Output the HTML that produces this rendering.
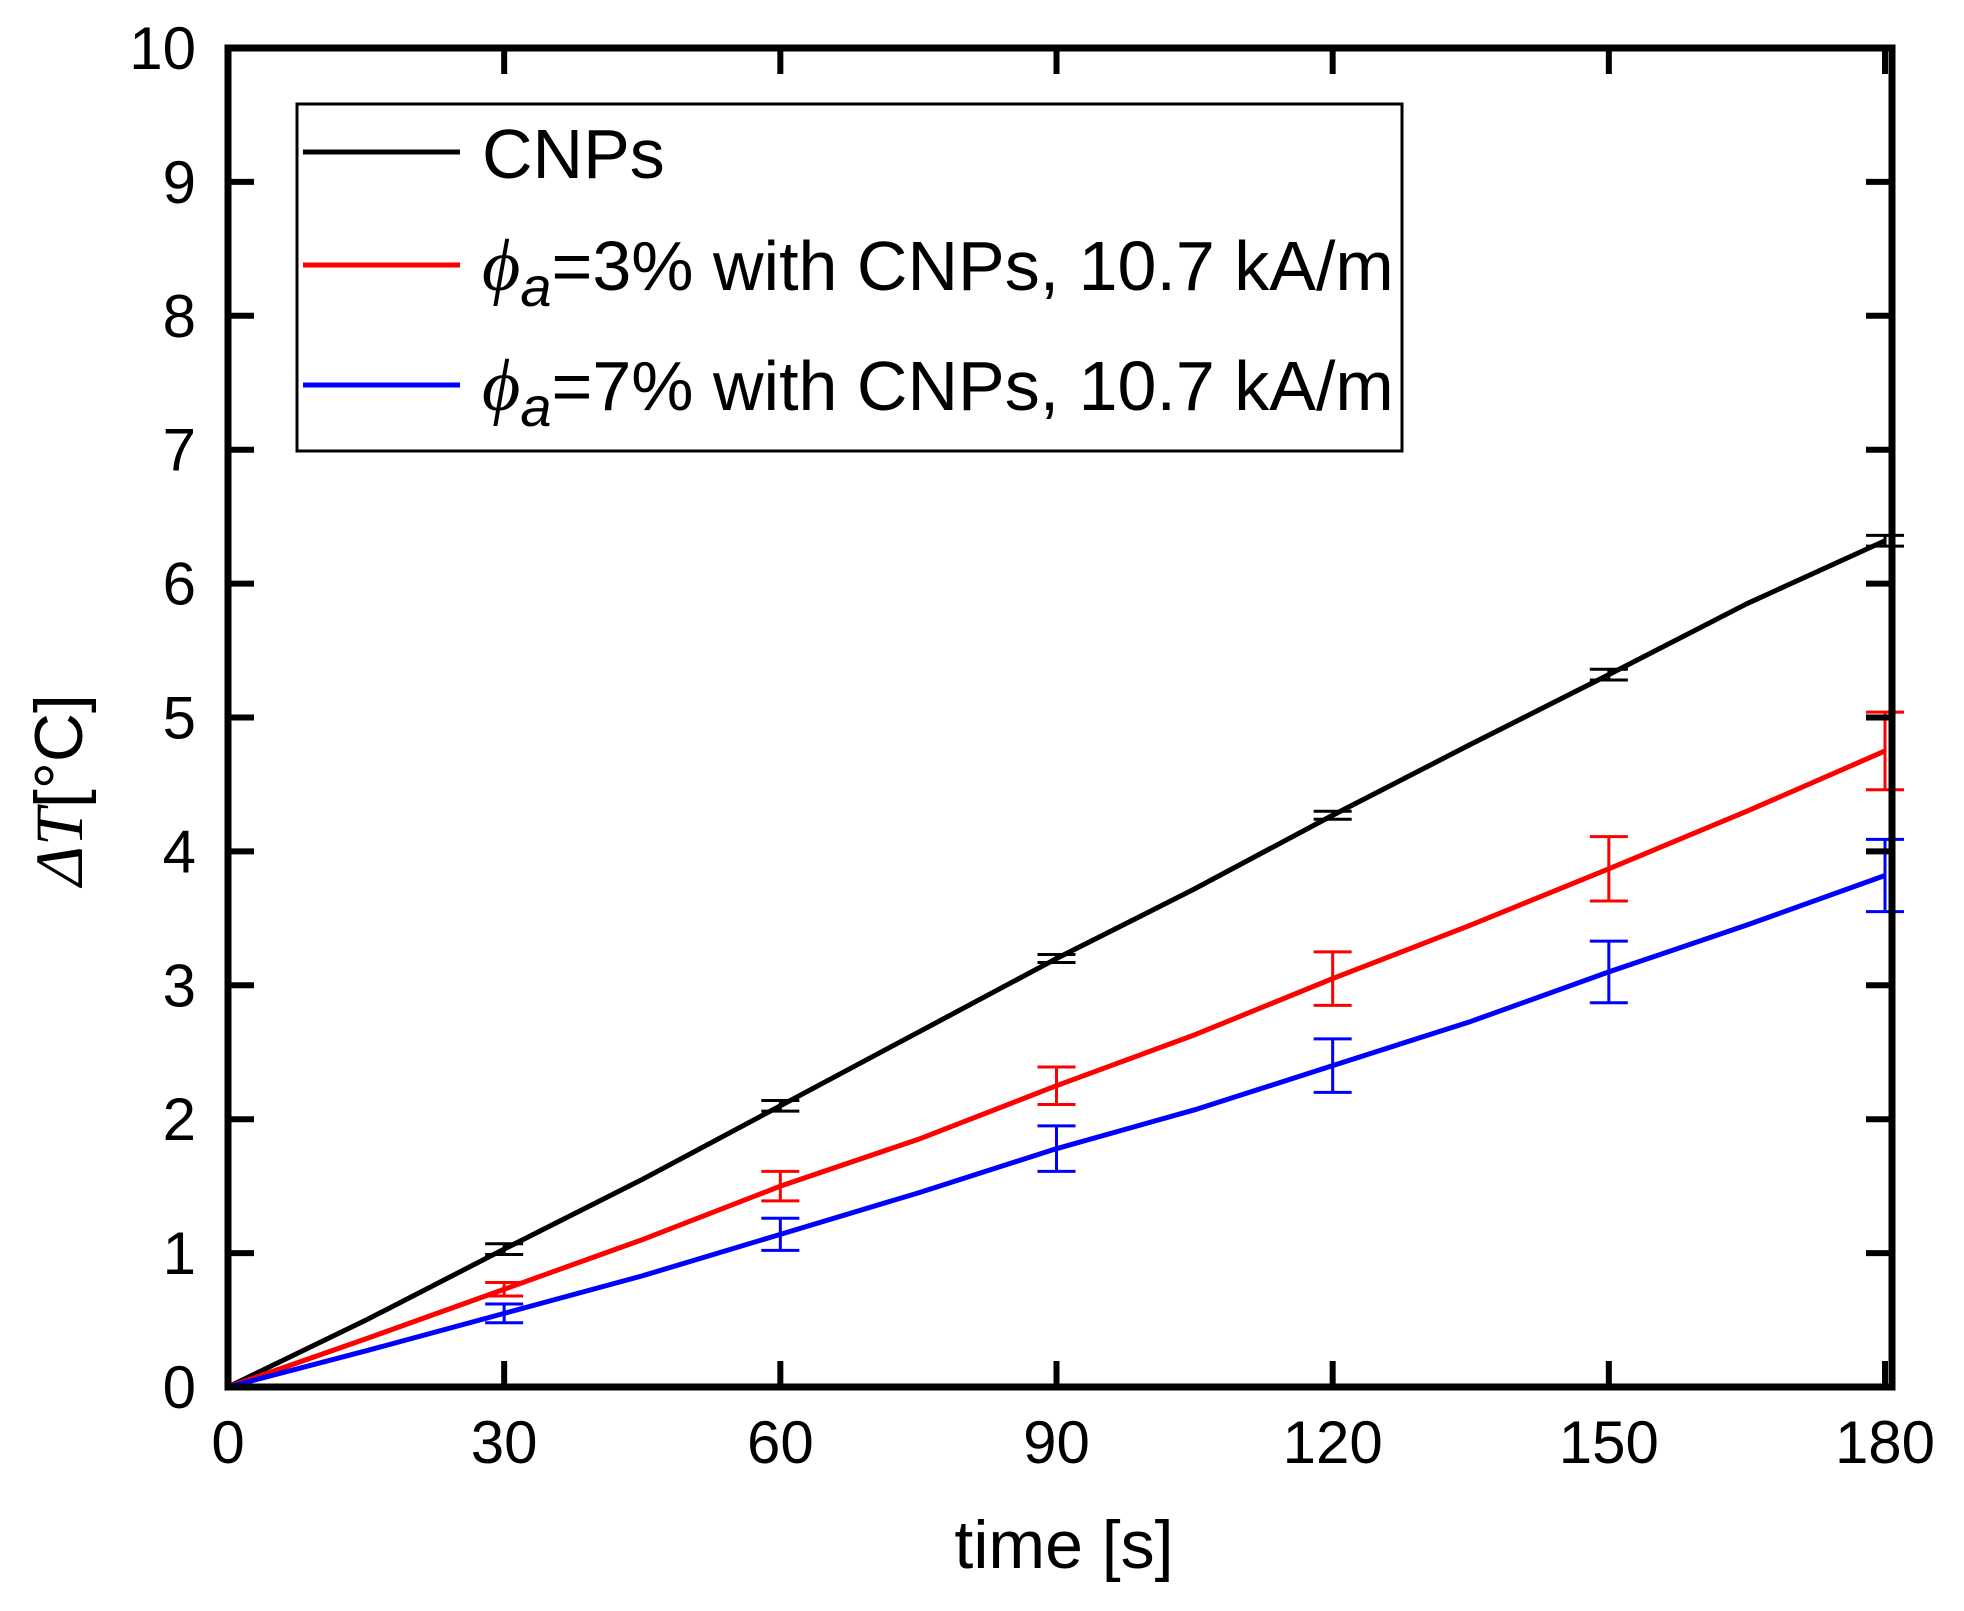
<!DOCTYPE html>
<html><head><meta charset="utf-8"><style>
html,body{margin:0;padding:0;background:#fff;}
svg{display:block;font-family:"Liberation Sans",sans-serif;}
</style></head><body>
<svg id="chart" width="1964" height="1611" viewBox="0 0 1964 1611" xmlns="http://www.w3.org/2000/svg">
<g id="plot"></g>
<g id="axes"></g>
<g>
  <rect x="297" y="104" width="1105" height="347" fill="#fff" stroke="#000" stroke-width="3"/>
  <line x1="303" y1="152" x2="460" y2="152" stroke="#000" stroke-width="5"/>
  <text x="482" y="178" font-size="70">CNPs</text>
  <line x1="303" y1="265" x2="460" y2="265" stroke="#f00" stroke-width="5"/>
  <text x="482" y="290" font-size="70"><tspan font-family="Liberation Serif" font-style="italic" font-size="74">ϕ</tspan><tspan font-style="italic" font-size="56" dy="16">a</tspan><tspan dy="-16">=3% with CNPs, 10.7 kA/m</tspan></text>
  <line x1="303" y1="385" x2="460" y2="385" stroke="#00f" stroke-width="5"/>
  <text x="482" y="410" font-size="70"><tspan font-family="Liberation Serif" font-style="italic" font-size="74">ϕ</tspan><tspan font-style="italic" font-size="56" dy="16">a</tspan><tspan dy="-16">=7% with CNPs, 10.7 kA/m</tspan></text>
</g>
<text x="1064" y="1568" font-size="68" text-anchor="middle">time [s]</text>
<text transform="translate(82,790) rotate(-90)" font-size="68" text-anchor="middle"><tspan font-family="Liberation Serif" font-style="italic">ΔT</tspan>[°C]</text>
</svg>
<script>
const times = [0,15,30,45,60,75,90,105,120,135,150,165,180];
const cnps = [0,0.5,1.03,1.55,2.1,2.65,3.2,3.72,4.27,4.8,5.32,5.85,6.32];
const phi3 = [0,0.36,0.73,1.1,1.5,1.85,2.25,2.63,3.05,3.45,3.87,4.3,4.75];
const phi7 = [0,0.27,0.55,0.83,1.14,1.45,1.78,2.07,2.4,2.73,3.1,3.45,3.82];
const errTimes = [30,60,90,120,150,180];
const cnpsErr = [0.04,0.04,0.03,0.03,0.04,0.04];
const phi3Err = [0.05,0.11,0.14,0.2,0.24,0.29];
const phi7Err = [0.07,0.12,0.17,0.2,0.23,0.27];
const xTicks = [0,30,60,90,120,150,180];
const yTicks = [0,1,2,3,4,5,6,7,8,9,10];

const X0=228, X1=1885, Y0=1387, Y1=48, XR=1892;
const sx = t => X0 + (t/180)*(X1-X0);
const sy = v => Y0 - (v/10)*(Y0-Y1);
const NS='http://www.w3.org/2000/svg';
const plot=document.getElementById('plot'), axes=document.getElementById('axes');
function mk(tag,attrs,parent){const e=document.createElementNS(NS,tag);for(const k in attrs)e.setAttribute(k,attrs[k]);parent.appendChild(e);return e;}

const series=[[cnps,cnpsErr,'#000','series-cnps'],[phi3,phi3Err,'#f00','series-phi-3pct'],[phi7,phi7Err,'#00f','series-phi-7pct']];
series.forEach(([vals,errs,col,name])=>{
  const pl=mk('polyline',{points:vals.map((v,i)=>sx(times[i])+','+sy(v)).join(' '),fill:'none',stroke:col,'stroke-width':5,'stroke-linejoin':'round'},plot);
  
  
  errTimes.forEach((t,i)=>{
    const v=vals[times.indexOf(t)], e=errs[i], x=sx(t);
    const g=mk('g',{stroke:col,'stroke-width':3},plot);
    
    
    mk('line',{x1:x,y1:sy(v-e),x2:x,y2:sy(v+e)},g);
    mk('line',{x1:x-19,y1:sy(v-e),x2:x+19,y2:sy(v-e)},g);
    mk('line',{x1:x-19,y1:sy(v+e),x2:x+19,y2:sy(v+e)},g);
  });
});

const frame=mk('rect',{x:X0,y:Y1,width:XR-X0,height:Y0-Y1,fill:'none',stroke:'#000','stroke-width':7},axes);


xTicks.forEach(t=>{
  const x=sx(t);
  if(t>0){
    mk('line',{x1:x,y1:Y0,x2:x,y2:Y0-26,stroke:'#000','stroke-width':6},axes);
    mk('line',{x1:x,y1:Y1,x2:x,y2:Y1+26,stroke:'#000','stroke-width':6},axes);
  }
  const tx=mk('text',{x:x,y:Y0+76,'font-size':60,'text-anchor':'middle'},axes);
  tx.textContent=t;
  
  
});
yTicks.forEach(v=>{
  const y=sy(v);
  if(v>0&&v<10){
    mk('line',{x1:X0,y1:y,x2:X0+26,y2:y,stroke:'#000','stroke-width':6},axes);
    mk('line',{x1:XR,y1:y,x2:XR-26,y2:y,stroke:'#000','stroke-width':6},axes);
  }
  const tx=mk('text',{x:X0-32,y:y+21,'font-size':60,'text-anchor':'end'},axes);
  tx.textContent=v;
  
  
});
</script>
</body></html>
